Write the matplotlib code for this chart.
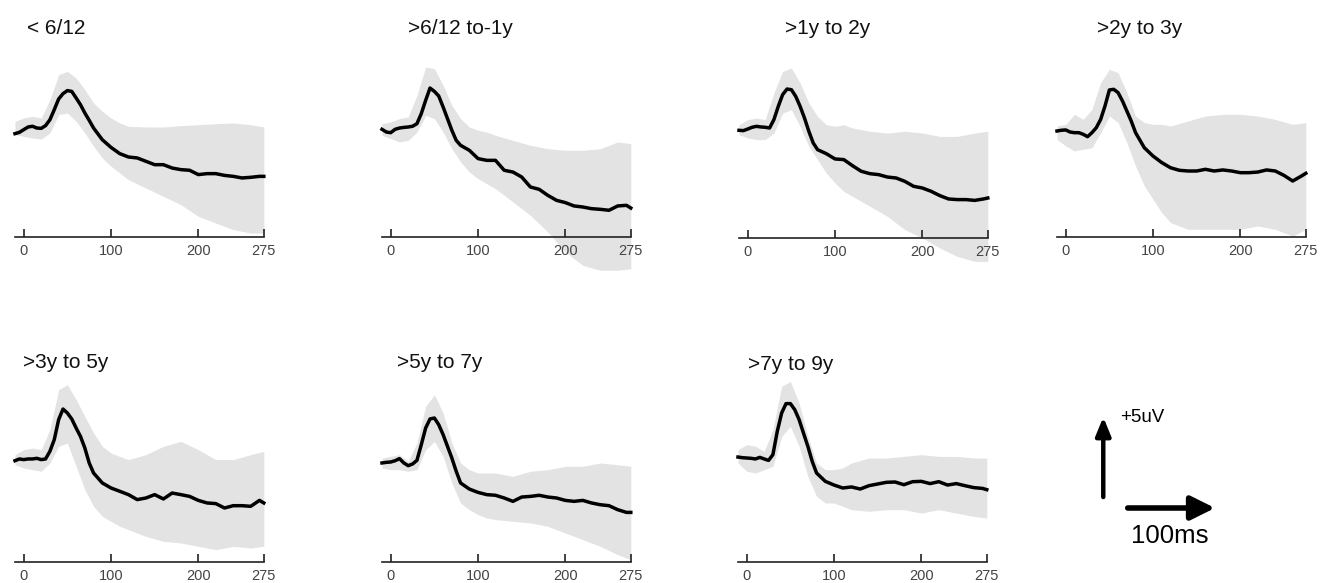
import matplotlib
matplotlib.use("Agg")
import matplotlib.pyplot as plt

plt.rcParams['font.family'] = ['Liberation Sans', 'DejaVu Sans']

# ---------------- data (time in ms, amplitude in uV) ----------------
titles = ["< 6/12", ">6/12 to-1y", ">1y to 2y", ">2y to 3y",
          ">3y to 5y", ">5y to 7y", ">7y to 9y"]
xticks = [0, 100, 200, 275]

t_mean = [-10, -5, 0, 5, 10, 15, 20, 25, 30, 35, 40, 45, 50, 55, 60, 65, 70, 75, 80,
          90, 100, 110, 120, 130, 140, 150, 160, 170, 180, 190, 200, 210, 220, 230,
          240, 250, 260, 270, 275]
t_band = [-10, 0, 10, 20, 30, 40, 50, 60, 70, 80, 90, 100, 110, 120, 140, 160, 180,
          200, 220, 240, 260, 275]

mean_lt6m = [-0.04, 0.04, 0.21, 0.375, 0.42, 0.31, 0.29, 0.46, 0.83, 1.46, 2.125, 2.46, 2.65,
             2.60, 2.19, 1.77, 1.25, 0.79, 0.31,
             -0.42, -0.90, -1.29, -1.5, -1.56, -1.77, -1.98, -1.98, -2.19, -2.29, -2.33, -2.60,
             -2.54, -2.54, -2.65, -2.71, -2.81, -2.77, -2.71, -2.71]
upper_lt6m = [0.73, 0.94, 1.04, 0.94, 2.08, 3.65, 3.85, 3.44, 2.71, 1.875, 1.35, 0.94, 0.625,
              0.42, 0.375, 0.375, 0.46, 0.52, 0.58, 0.625, 0.52, 0.375]
lower_lt6m = [-0.10, -0.21, -0.31, -0.375, 0.0, 1.15, 1.25, 0.73, 0.0, -0.83, -1.56, -2.08,
              -2.5, -2.92, -3.44, -3.96, -4.48, -5.21, -5.625, -6.04, -6.25, -6.25]

mean_6m1y = [0.23, 0.06, 0.02, 0.23, 0.31, 0.35, 0.375, 0.42, 0.58, 1.21, 2.04, 2.81, 2.60,
             2.31, 1.625, 0.90, 0.17, -0.46, -0.77,
             -1.08, -1.60, -1.71, -1.71, -2.33, -2.44, -2.75, -3.375, -3.52, -3.90, -4.21,
             -4.35, -4.56, -4.625, -4.73, -4.77, -4.83, -4.56, -4.52, -4.69]
upper_6m1y = [0.58, 0.69, 0.90, 1.0, 2.35, 4.125, 4.02, 2.98, 1.73, 0.90, 0.375, 0.17, 0.06,
              -0.15, -0.46, -0.77, -0.98, -1.08, -1.08, -0.98, -0.56, -0.67]
lower_6m1y = [-0.15, -0.35, -0.56, -0.46, 0.06, 1.10, 0.90, 0.06, -0.98, -1.81, -2.44, -2.85,
              -3.17, -3.48, -4.31, -5.15, -6.19, -7.44, -8.27, -8.58, -8.58, -8.48]

mean_1y2y = [0.23, 0.21, 0.31, 0.42, 0.48, 0.44, 0.42, 0.375, 0.90, 1.73, 2.46, 2.81, 2.77,
             2.35, 1.73, 1.0, 0.17, -0.56, -0.98,
             -1.23, -1.56, -1.60, -1.98, -2.33, -2.48, -2.54, -2.69, -2.75, -2.96, -3.27,
             -3.375, -3.58, -3.85, -4.06, -4.10, -4.10, -4.15, -4.06, -4.0]
upper_1y2y = [0.58, 0.90, 1.0, 0.90, 2.56, 3.92, 4.125, 3.19, 1.94, 1.10, 0.58, 0.48, 0.58,
              0.375, 0.17, 0.06, 0.17, 0.06, -0.15, -0.15, 0.06, 0.17]
lower_1y2y = [-0.04, -0.25, -0.35, -0.35, 0.06, 1.31, 1.52, 0.48, -0.77, -1.60, -2.44, -3.06,
              -3.58, -3.90, -4.52, -5.15, -5.98, -6.5, -7.125, -7.65, -7.96, -7.96]

mean_2y3y = [0.125, 0.17, 0.19, 0.06, 0.02, 0.02, -0.08, -0.23, 0.02, 0.33, 0.85, 1.69, 2.69,
             2.73, 2.52, 2.0, 1.375, 0.75, 0.02,
             -0.92, -1.44, -1.85, -2.17, -2.33, -2.375, -2.375, -2.27, -2.375, -2.31, -2.375,
             -2.48, -2.48, -2.44, -2.31, -2.375, -2.65, -3.0, -2.69, -2.52]
upper_2y3y = [0.44, 0.54, 1.17, 0.85, 1.48, 3.15, 3.98, 3.77, 2.52, 1.06, 0.65, 0.54, 0.54,
              0.44, 0.75, 1.06, 1.17, 1.17, 1.06, 0.85, 0.54, 0.65]
lower_2y3y = [-0.40, -0.81, -1.125, -1.02, -0.92, 0.02, 1.06, 0.65, -0.60, -2.06, -3.31, -4.15,
              -4.98, -5.60, -6.02, -6.02, -6.02, -6.02, -5.81, -6.02, -6.44, -6.02]

mean_3y5y = [-0.17, -0.06, -0.10, -0.06, -0.06, -0.02, -0.10, -0.06, 0.42, 1.15, 2.40, 3.06,
             2.81, 2.44, 1.875, 1.35, 0.625, -0.31, -0.94,
             -1.56, -1.875, -2.08, -2.29, -2.60, -2.5, -2.29, -2.56, -2.19, -2.29, -2.40,
             -2.65, -2.81, -2.85, -3.125, -2.98, -2.98, -3.02, -2.65, -2.81]
upper_3y5y = [0.21, 0.52, 0.625, 0.52, 1.77, 4.27, 4.58, 3.65, 2.60, 1.56, 0.73, 0.31, 0.10,
              -0.10, 0.21, 0.73, 1.04, 0.52, -0.10, -0.10, 0.21, 0.42]
lower_3y5y = [-0.42, -0.625, -0.73, -0.83, -0.31, 0.73, 0.94, -0.52, -1.98, -3.02, -3.65, -3.96,
              -4.27, -4.48, -4.90, -5.21, -5.31, -5.52, -5.73, -5.52, -5.625, -5.52]

mean_5y7y = [-0.31, -0.27, -0.25, -0.17, -0.04, -0.31, -0.48, -0.375, -0.15, 0.83, 1.875, 2.44,
             2.5, 2.08, 1.46, 0.73, 0.0, -0.83, -1.56,
             -1.94, -2.15, -2.29, -2.33, -2.5, -2.71, -2.44, -2.40, -2.33, -2.44, -2.5, -2.65,
             -2.71, -2.65, -2.81, -2.92, -2.98, -3.23, -3.40, -3.40]
upper_5y7y = [0.0, 0.10, 0.21, -0.21, 0.94, 3.23, 3.96, 2.81, 0.94, -0.31, -0.73, -0.94, -0.94,
              -0.94, -1.15, -0.83, -0.73, -0.52, -0.52, -0.31, -0.42, -0.52]
lower_5y7y = [-0.625, -0.73, -0.73, -0.83, -0.73, 0.52, 1.04, 0.10, -1.56, -2.81, -3.23, -3.54,
              -3.75, -3.85, -3.96, -4.06, -4.27, -4.69, -5.10, -5.52, -6.04, -6.35]

mean_7y9y = [0.06, 0.02, 0.0, -0.02, -0.06, 0.04, -0.06, -0.15, 0.21, 1.67, 2.81, 3.40, 3.40,
             3.02, 2.40, 1.56, 0.73, -0.21, -0.94,
             -1.46, -1.69, -1.875, -1.81, -1.94, -1.73, -1.625, -1.52, -1.50, -1.67, -1.48,
             -1.46, -1.60, -1.48, -1.69, -1.60, -1.73, -1.85, -1.90, -1.98]
upper_7y9y = [0.52, 0.83, 0.73, 0.42, 1.77, 4.48, 4.79, 3.44, 1.35, -0.31, -0.73, -0.73, -0.625,
              -0.31, 0.0, 0.0, 0.10, 0.21, 0.10, 0.10, 0.0, 0.0]
lower_7y9y = [-0.31, -0.83, -0.94, -0.73, -0.52, 1.35, 1.98, 0.73, -1.15, -2.40, -2.81, -2.81,
              -3.02, -3.23, -3.33, -3.23, -3.23, -3.44, -3.23, -3.44, -3.65, -3.75]

means = [mean_lt6m, mean_6m1y, mean_1y2y, mean_2y3y, mean_3y5y, mean_5y7y, mean_7y9y]
uppers = [upper_lt6m, upper_6m1y, upper_1y2y, upper_2y3y, upper_3y5y, upper_5y7y, upper_7y9y]
lowers = [lower_lt6m, lower_6m1y, lower_1y2y, lower_2y3y, lower_3y5y, lower_5y7y, lower_7y9y]

scale_uv = 5      # scale bar amplitude
scale_ms = 100    # scale bar duration

# ---------------- layout ----------------
W, H = 1322, 583
PX_PER_MS = 0.873
PX_PER_UV = 16.0
XLIM = (-10, 275)
YLIM = (-6.5, 5.0)

fig = plt.figure(figsize=(W / 100, H / 100), dpi=100)

# (left px, axis-line px from top)
panel_pos = [(15, 237), (382, 237), (739, 238), (1057, 237),
             (15, 562), (382, 562), (738, 562)]
title_pos = [(27, 28), (408, 28), (785, 28), (1097, 28),
             (23, 363), (397, 363), (748, 365)]

ax_w = (XLIM[1] - XLIM[0]) * PX_PER_MS
ax_h = (YLIM[1] - YLIM[0]) * PX_PER_UV

BAND = '#e3e3e3'

for i in range(7):
    lp, yp = panel_pos[i]
    ax = fig.add_axes([lp / W, (H - yp) / H, ax_w / W, ax_h / H])
    ax.fill_between(t_band, lowers[i], uppers[i], color=BAND, lw=0, clip_on=False)
    ax.plot(t_mean, means[i], color='black', lw=2.5, clip_on=False, solid_joinstyle='round')
    ax.set_xlim(*XLIM)
    ax.set_ylim(*YLIM)
    for s in ['top', 'right', 'left']:
        ax.spines[s].set_visible(False)
    ax.spines['bottom'].set_linewidth(1.2)
    ax.spines['bottom'].set_color('#222222')
    ax.spines['bottom'].set_zorder(5)
    ax.set_yticks([])
    ax.set_xticks(xticks)
    ax.set_xticklabels([str(v) for v in xticks])
    ax.tick_params(axis='x', direction='in', length=5.5, width=1.2, color='#222222',
                   labelsize=10.5, labelcolor='#444444', pad=5)
    ax.patch.set_alpha(0)
    tx, ty = title_pos[i]
    fig.text(tx / W, 1 - ty / H, titles[i], ha='left', va='center', fontsize=15,
             color='#111111')

# ---------------- scale bar ----------------
sx = fig.add_axes([1057 / W, (H - 562) / H, ax_w / W, ax_h / H])
sx.set_xlim(*XLIM)
sx.set_ylim(*YLIM)
sx.axis('off')
vx, vy0 = 43.0, -2.44
sx.annotate('', xy=(vx, vy0 + scale_uv), xytext=(vx, vy0),
            arrowprops=dict(arrowstyle='-|>,head_length=1.1,head_width=0.45',
                            mutation_scale=10, lw=3.2, color='black',
                            shrinkA=0, shrinkB=0))
hx0, hy = 71, -3.125
sx.annotate('', xy=(hx0 + scale_ms, hy), xytext=(hx0, hy),
            arrowprops=dict(arrowstyle='-|>,head_length=1.45,head_width=0.72',
                            mutation_scale=10, lw=4.0, color='black',
                            shrinkA=0, shrinkB=0))
fig.text(1120 / W, 1 - 418 / H, '+5uV', ha='left', va='center', fontsize=13.5)
fig.text(1131 / W, 1 - 536 / H, '100ms', ha='left', va='center', fontsize=18.5)

fig.savefig('out.png', dpi=100)
